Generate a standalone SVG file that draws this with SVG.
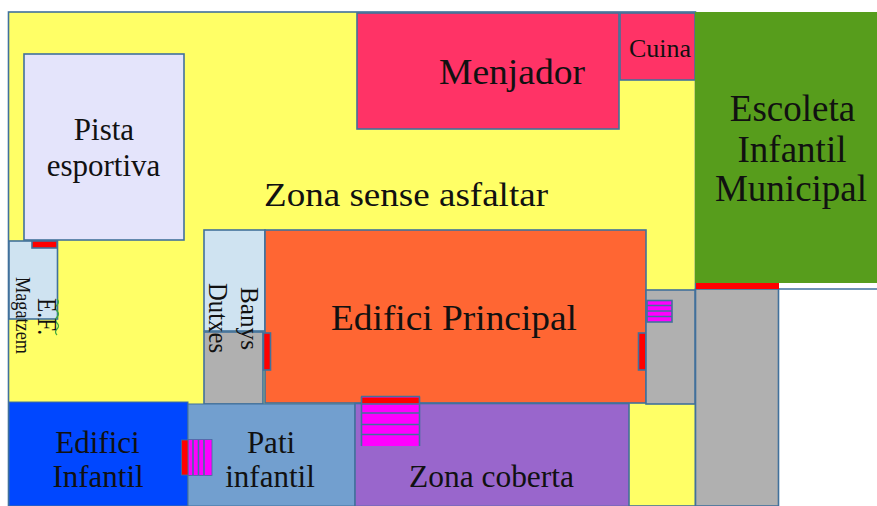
<svg xmlns="http://www.w3.org/2000/svg" width="877" height="506" viewBox="0 0 877 506">
<style>
.b{stroke:#41719c;stroke-width:1.6}
.r{fill:#ff0000}.m{fill:#ff00ff}
text{font-family:"Liberation Serif","Times New Roman",serif;fill:#111}
</style>
<rect width="877" height="506" fill="#fff"/>
<g id="zona-sense-asfaltar">
<rect class="b" x="8.500" y="12" width="687" height="494" fill="#ffff66"/>
<text x="264" y="206" font-size="33" textLength="284" lengthAdjust="spacingAndGlyphs">Zona sense asfaltar</text>
</g>
<g id="menjador">
<rect class="b" x="357" y="13" width="262" height="116" fill="#ff3366"/>
<text x="439" y="84" font-size="36" textLength="146" lengthAdjust="spacingAndGlyphs">Menjador</text>
</g>
<g id="cuina">
<rect class="b" x="620" y="13" width="75" height="67" fill="#ff3366"/>
<text x="629" y="57" font-size="25" textLength="62" lengthAdjust="spacingAndGlyphs">Cuina</text>
</g>
<g id="cami">
<rect class="b" x="695.500" y="289" width="83" height="217" fill="#b0b0b0"/>
<line class="b" x1="778" y1="289" x2="877" y2="289"/>
</g>
<g id="escoleta">
<rect x="695" y="12" width="182" height="271" fill="#579d1c"/>
<rect class="r" x="696" y="283" width="83" height="6"/>
<text font-size="37" text-anchor="middle" x="792.500" y="121">Escoleta</text>
<text font-size="37" text-anchor="middle" x="792" y="162">Infantil</text>
<text font-size="37" text-anchor="middle" x="791" y="201">Municipal</text>
</g>
<g id="pista">
<rect class="b" x="24" y="54" width="160" height="186" fill="#e4e4fb"/>
<text font-size="31" text-anchor="middle" x="104" y="140">Pista</text>
<text font-size="31" text-anchor="middle" x="103.500" y="176">esportiva</text>
</g>
<g id="magatzem">
<rect class="b" x="9" y="241" width="48.500" height="78" fill="#cfe3f1"/>
<rect class="b r" x="32" y="241" width="25" height="7"/>
<path d="M57 299q3 3 0 6t0 6q3 3 0 6t0 6q3 3 0 6t0 6" fill="none" stroke="#3faa3f" stroke-width="1.200"/>
<text transform="translate(15.500 277) rotate(90)" font-size="22" textLength="77" lengthAdjust="spacingAndGlyphs">Magatzem</text>
<text transform="translate(37.500 298) rotate(90)" font-size="28" textLength="37" lengthAdjust="spacingAndGlyphs">E.F.</text>
</g>
<g id="banys">
<rect class="b" x="204" y="230" width="61" height="101" fill="#cfe3f1"/>
<rect class="b" x="204" y="332" width="59" height="72" fill="#b0b0b0"/>
<text transform="translate(241 287) rotate(90)" font-size="26" textLength="63" lengthAdjust="spacingAndGlyphs">Banys</text>
<text transform="translate(209 283) rotate(90)" font-size="27" textLength="70" lengthAdjust="spacingAndGlyphs">Dutxes</text>
</g>
<g id="edifici-principal">
<rect class="b" x="265" y="230" width="381" height="173" fill="#ff6633"/>
<rect class="b r" x="263.500" y="333" width="7" height="37"/>
<rect class="b r" x="638.500" y="333" width="7.500" height="37"/>
<text x="331" y="330" font-size="36" textLength="246" lengthAdjust="spacingAndGlyphs">Edifici Principal</text>
</g>
<g id="pati-lateral">
<rect class="b" x="646" y="290" width="49" height="114" fill="#b0b0b0"/>
<rect class="b m" x="647" y="300.500" width="25" height="21.500"/>
<path class="b" d="M647 305.500h25M647 311h25M647 316.500h25" fill="none"/>
</g>
<g id="edifici-infantil">
<rect x="9" y="402" width="179" height="104" fill="#0047ff" stroke="#41719c"/>
<text font-size="31" text-anchor="middle" x="97.500" y="453">Edifici</text>
<text font-size="31" text-anchor="middle" x="98" y="487">Infantil</text>
</g>
<g id="pati-infantil">
<rect x="188" y="404" width="167" height="102" fill="#729fcf" stroke="#41719c"/>
<text font-size="31" text-anchor="middle" x="271" y="453">Pati</text>
<text font-size="31" text-anchor="middle" x="270" y="487">infantil</text>
</g>
<g id="zona-coberta">
<rect class="b" x="355" y="403.500" width="274" height="103" fill="#9966cc"/>
<text x="409" y="487" font-size="30.500" textLength="165" lengthAdjust="spacingAndGlyphs">Zona coberta</text>
</g>
<g id="escala-principal">
<rect x="361" y="396.500" width="59" height="49.500" fill="#ff00ff"/>
<rect class="r" x="362" y="397.500" width="57" height="6"/>
<path class="b" d="M361.500 396.500v49.500M419.500 396.500v49.500M361 396.500h59M361 404h59M361 413h59M361 424.500h59M361 434.500h59" fill="none"/>
</g>
<g id="escala-infantil">
<rect class="m" x="188" y="439.500" width="24" height="36" stroke="#41719c" stroke-width=".8"/>
<path class="b" d="M193 440v35M198.500 440v35M204 440v35" fill="none"/>
<rect class="r" x="181.500" y="440" width="6.500" height="35" stroke="#41719c" stroke-width=".8"/>
</g>
</svg>
